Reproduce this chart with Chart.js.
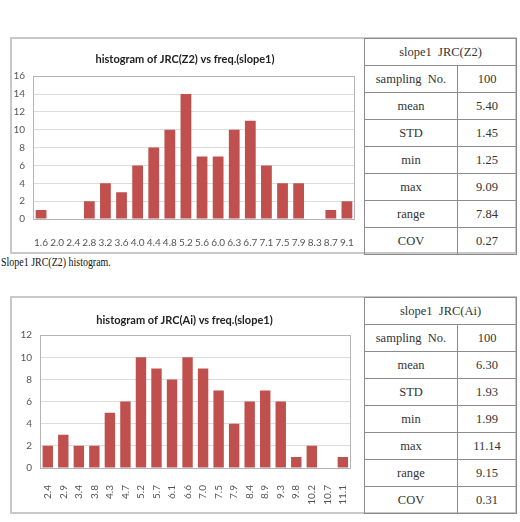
<!DOCTYPE html>
<html lang="en">
<head>
<meta charset="UTF-8">
<title>Slope1 JRC histograms</title>
<script src="https://cdn.jsdelivr.net/npm/chart.js"></script>
<style>
body { margin:0; background:#fff; width:520px; height:522px; position:relative; overflow:hidden; }
.panel { position:absolute; left:10px; width:507px; box-sizing:border-box; border:2px solid #c8c8c8; }
canvas { position:absolute; left:10px; }
table.stats { position:absolute; left:364px; width:152px; border-collapse:collapse; table-layout:fixed;
  font-family:"Liberation Serif", "DejaVu Serif", serif; font-size:12.5px; color:#333; }
table.stats td { border:1px solid #8c8c8c; text-align:center; height:26px; padding:0; }
.caption { position:absolute; left:1px; top:255px; font-family:"Liberation Serif", serif; font-size:12px; color:#111;
  transform:scaleX(0.83); transform-origin:left top; white-space:nowrap; }
</style>
</head>
<body>
<div class="panel" style="top:37px;height:217px"></div>
<canvas id="chartZ2" width="354" height="215" style="top:38px"></canvas>
<table class="stats" style="top:38px">
  <colgroup><col style="width:93px"><col style="width:59px"></colgroup>
  <tr><td colspan="2">slope1&nbsp; JRC(Z2)</td></tr>
  <tr><td>sampling&nbsp; No.</td><td>100</td></tr>
  <tr><td>mean</td><td>5.40</td></tr>
  <tr><td>STD</td><td>1.45</td></tr>
  <tr><td>min</td><td>1.25</td></tr>
  <tr><td>max</td><td>9.09</td></tr>
  <tr><td>range</td><td>7.84</td></tr>
  <tr><td>COV</td><td>0.27</td></tr>
</table>
<div class="caption">Slope1 JRC(Z2) histogram.</div>

<div class="panel" style="top:296px;height:218px"></div>
<canvas id="chartAi" width="354" height="216" style="top:297px"></canvas>
<table class="stats" style="top:297px">
  <colgroup><col style="width:93px"><col style="width:59px"></colgroup>
  <tr><td colspan="2">slope1&nbsp; JRC(Ai)</td></tr>
  <tr><td>sampling&nbsp; No.</td><td>100</td></tr>
  <tr><td>mean</td><td>6.30</td></tr>
  <tr><td>STD</td><td>1.93</td></tr>
  <tr><td>min</td><td>1.99</td></tr>
  <tr><td>max</td><td>11.14</td></tr>
  <tr><td>range</td><td>9.15</td></tr>
  <tr><td>COV</td><td>0.31</td></tr>
</table>

<script>
// JRC(Z2) bins and counts
const z2Labels = ['1.6','2.0','2.4','2.8','3.2','3.6','4.0','4.4','4.8','5.2','5.6','6.0','6.3','6.7','7.1','7.5','7.9','8.3','8.7','9.1'];
const z2Freq = [1, 0, 0, 2, 4, 3, 6, 8, 10, 14, 7, 7, 10, 11, 6, 4, 4, 0, 1, 2];

// JRC(Ai) bins and counts
const aiLabels = ['2.4','2.9','3.4','3.8','4.3','4.7','5.2','5.7','6.1','6.6','7.0','7.5','7.9','8.4','8.9','9.3','9.8','10.2','10.7','11.1'];
const aiFreq = [2, 3, 2, 2, 5, 6, 10, 9, 8, 10, 9, 7, 4, 6, 7, 6, 1, 2, 0, 1];

const barColor = '#c0504d';
const font = 'Lato, "Open Sans", sans-serif';

// box around the plot area, like the excel chart
const frame = {
  id: 'frame',
  beforeDatasetsDraw(chart) {
    const { ctx, chartArea: a } = chart;
    ctx.save();
    ctx.strokeStyle = '#b4b4b4';
    ctx.lineWidth = 1;
    ctx.strokeRect(Math.round(a.left) + 0.5, Math.round(a.top) + 0.5, Math.round(a.width) - 1, Math.round(a.height));
    ctx.restore();
  }
};

function histChart(id, labels, values, title, yMax, opt) {
  new Chart(document.getElementById(id), {
    type: 'bar',
    data: {
      labels: labels,
      datasets: [{ data: values, backgroundColor: barColor, categoryPercentage: 1, barPercentage: 0.67 }]
    },
    options: {
      responsive: false,
      animation: false,
      layout: { padding: { right: opt.padRight } },
      plugins: {
        legend: { display: false },
        tooltip: { enabled: false },
        title: {
          display: true, text: title, color: '#222',
          font: { family: font, size: 11, weight: 'bold' },
          padding: opt.titlePad
        }
      },
      scales: {
        x: {
          grid: { display: false },
          border: { display: false },
          ticks: {
            color: '#555', font: { family: font, size: 10 }, padding: opt.xPad,
            autoSkip: false, minRotation: opt.rot, maxRotation: opt.rot
          },
          afterFit(s) { s.height = opt.xHeight; }
        },
        y: {
          min: 0, max: yMax,
          grid: { color: '#dcdcdc', drawTicks: false },
          border: { display: false },
          ticks: { stepSize: 2, color: '#555', font: { family: font, size: 10 }, padding: 8 },
          afterFit(s) { s.width = opt.yWidth; }
        }
      }
    },
    plugins: [frame]
  });
}

histChart('chartZ2', z2Labels, z2Freq, 'histogram of JRC(Z2) vs freq.(slope1)', 16,
  { padRight: 4, titlePad: { top: 15, bottom: 10 }, xPad: 10, rot: 0, xHeight: 34, yWidth: 23 });
histChart('chartAi', aiLabels, aiFreq, 'histogram of JRC(Ai) vs freq.(slope1)', 12,
  { padRight: 5, titlePad: { top: 17, bottom: 8 }, xPad: 9, rot: 90, xHeight: 45, yWidth: 30 });
</script>
</body>
</html>
